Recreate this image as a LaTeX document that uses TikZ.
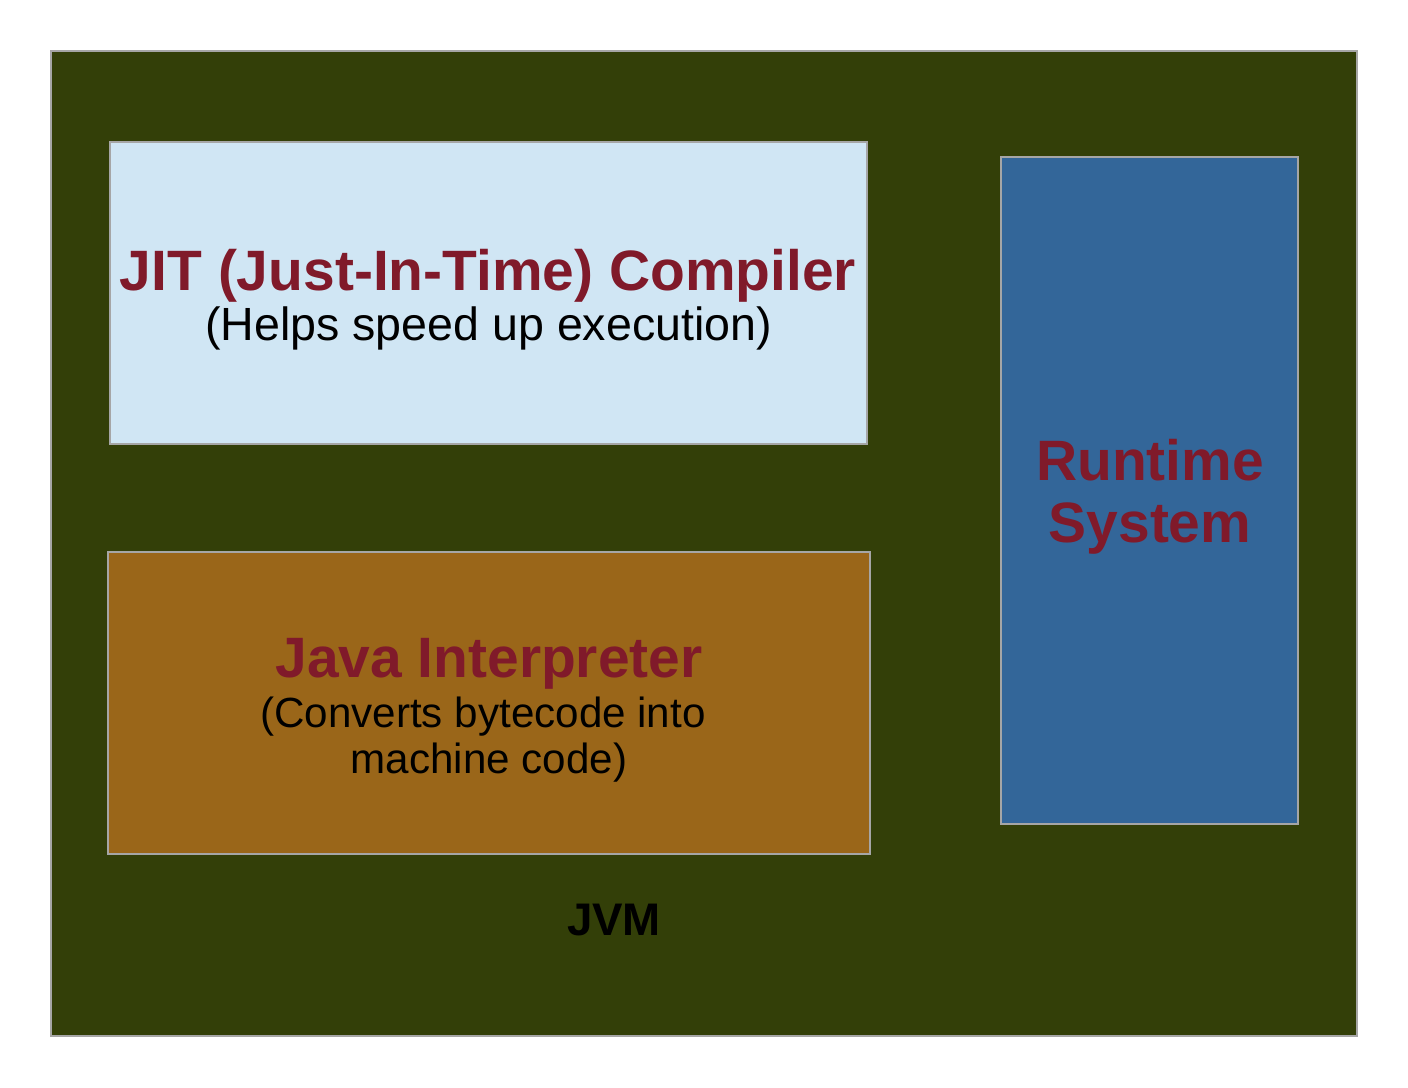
\documentclass[tikz,border=0pt]{standalone}
\usepackage{fontspec}
\setmainfont{Liberation Sans}
\usepackage{xcolor}

\definecolor{jvmgreen}{RGB}{51,63,8}
\definecolor{jitblue}{RGB}{208,230,244}
\definecolor{interpbrown}{RGB}{154,102,25}
\definecolor{runblue}{RGB}{51,102,153}
\definecolor{titlered}{RGB}{128,26,42}

\begin{document}
\begin{tikzpicture}[
    box/.style={draw=gray!70, line width=0.6pt, inner sep=0pt},
    title/.style={anchor=base, text=titlered, font=\fontsize{32.4}{37}\selectfont\bfseries},
    sub/.style={anchor=base, text=black, font=\fontsize{24}{28}\selectfont}
]
\useasboundingbox (0,0) rectangle (28.16,-21.76);
\node[box, fill=jvmgreen, minimum width=26.12cm, minimum height=19.7cm] (jvm) at (14.08,-10.87) {};
\node[box, fill=jitblue, minimum width=15.14cm, minimum height=6.04cm] (jit) at (9.77,-5.86) {};
\node[box, fill=interpbrown, minimum width=15.24cm, minimum height=6.04cm] (interp) at (9.78,-14.06) {};
\node[box, fill=runblue, minimum width=5.94cm, minimum height=13.34cm] (runtime) at (22.99,-9.81) {};

% texts
\node[title] (jittitle) at (9.76,-5.80) {JIT (Just-In-Time) Compiler};
\node[sub, font=\fontsize{26.5}{30}\selectfont] (jitsub) at (9.77,-6.80) {(Helps speed up execution)};
\node[title] (interptitle) at (9.78,-13.54) {Java Interpreter};
\node[sub] (interpsub) at (9.66,-14.54) {(Converts bytecode into};
\node[sub] (interpsubb) at (9.78,-15.46) {machine code)};
\node[title] (runtitle) at (23.0,-9.60) {Runtime};
\node[title] (runtitleb) at (23.0,-10.84) {System};
\node[anchor=base, font=\fontsize{26}{30}\selectfont\bfseries] (jvmlabel) at (12.28,-18.70) {JVM};
\end{tikzpicture}
\end{document}
